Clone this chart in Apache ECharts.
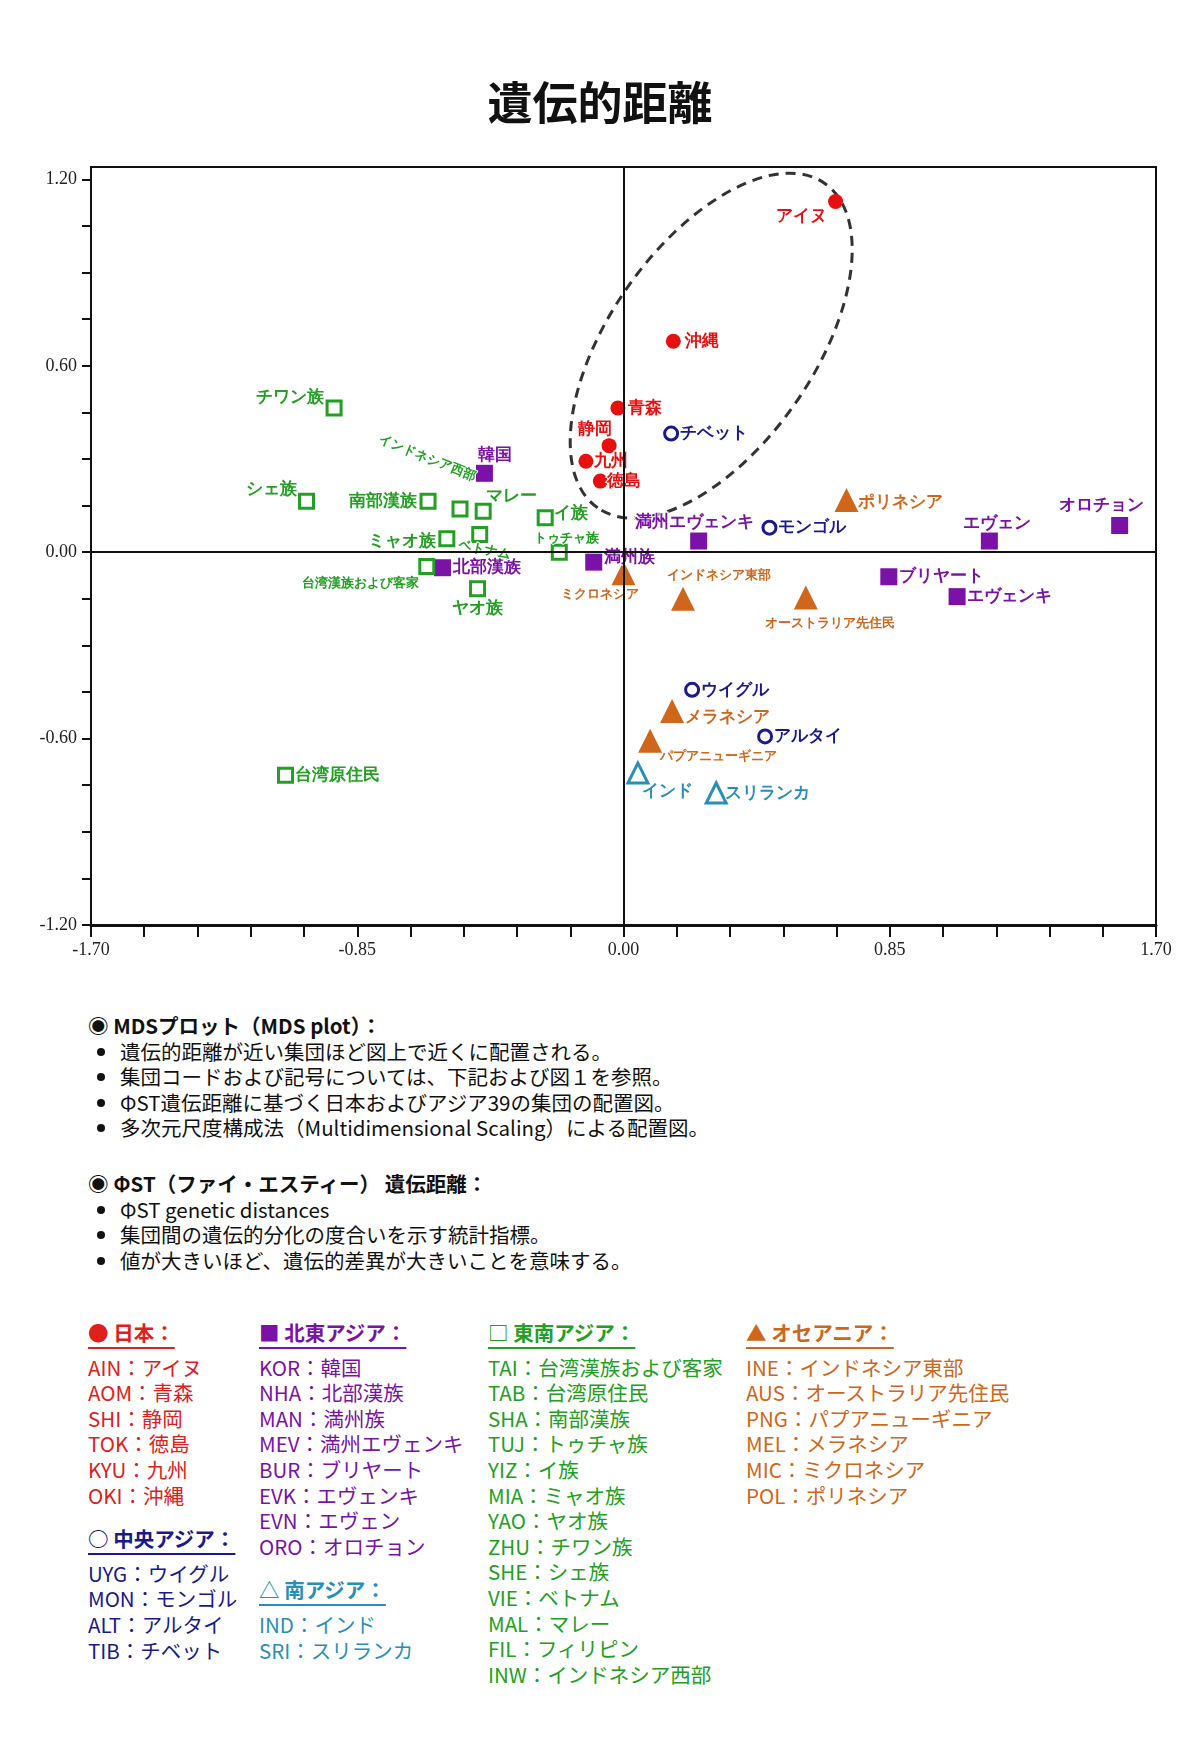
<!DOCTYPE html>
<html>
<head>
<meta charset="utf-8">
<script src="https://cdn.jsdelivr.net/npm/echarts@6/dist/echarts.min.js"></script>
<style>
body{margin:0;background:#fff;font-family:"Noto Sans CJK JP","Noto Sans",sans-serif;color:#111;}
#title{position:absolute;left:0;top:68px;width:1200px;text-align:center;font-size:45px;font-weight:bold;}
#chart{position:absolute;left:0;top:0;width:1200px;height:1000px;}
.notes{position:absolute;left:88px;font-size:20.5px;line-height:25.6px;}
.notes b{font-weight:bold;}
.notes ul{margin:0;padding-left:32px;}
.col{position:absolute;top:1320px;font-size:20.5px;line-height:25.6px;}
.col .h{font-weight:bold;text-decoration:underline;text-underline-offset:6px;margin-bottom:9px;}
.col .h2{margin-top:18px;}
</style>
</head>
<body>
<div id="chart"></div>
<div id="title">遺伝的距離</div>
<div class="notes" style="top:1013px;">
<b>◉ MDSプロット（MDS plot）：</b>
<ul>
<li>遺伝的距離が近い集団ほど図上で近くに配置される。</li>
<li>集団コードおよび記号については、下記および図１を参照。</li>
<li>ΦST遺伝距離に基づく日本およびアジア39の集団の配置図。</li>
<li>多次元尺度構成法（Multidimensional Scaling）による配置図。</li>
</ul>
</div>
<div class="notes" style="top:1171px;">
<b>◉ ΦST（ファイ・エスティー） 遺伝距離：</b>
<ul>
<li>ΦST genetic distances</li>
<li>集団間の遺伝的分化の度合いを示す統計指標。</li>
<li>値が大きいほど、遺伝的差異が大きいことを意味する。</li>
</ul>
</div>
<div class="col" style="left:88px;color:#e0201b;">
<div class="h">● 日本：</div>
AIN：アイヌ<br>AOM：青森<br>SHI：静岡<br>TOK：徳島<br>KYU：九州<br>OKI：沖縄
<div class="h h2" style="color:#1a1a8c;">○ 中央アジア：</div>
<div style="color:#1a1a8c;">UYG：ウイグル<br>MON：モンゴル<br>ALT：アルタイ<br>TIB：チベット</div>
</div>
<div class="col" style="left:259px;color:#7a12a8;">
<div class="h">■ 北東アジア：</div>
KOR：韓国<br>NHA：北部漢族<br>MAN：満州族<br>MEV：満州エヴェンキ<br>BUR：ブリヤート<br>EVK：エヴェンキ<br>EVN：エヴェン<br>ORO：オロチョン
<div class="h h2" style="color:#2a8fb8;">△ 南アジア：</div>
<div style="color:#2a8fb8;">IND：インド<br>SRI：スリランカ</div>
</div>
<div class="col" style="left:488px;color:#22a022;">
<div class="h">□ 東南アジア：</div>
TAI：台湾漢族および客家<br>TAB：台湾原住民<br>SHA：南部漢族<br>TUJ：トゥチャ族<br>YIZ：イ族<br>MIA：ミャオ族<br>YAO：ヤオ族<br>ZHU：チワン族<br>SHE：シェ族<br>VIE：ベトナム<br>MAL：マレー<br>FIL：フィリピン<br>INW：インドネシア西部
</div>
<div class="col" style="left:746px;color:#d0661a;">
<div class="h">▲ オセアニア：</div>
INE：インドネシア東部<br>AUS：オーストラリア先住民<br>PNG：パプアニューギニア<br>MEL：メラネシア<br>MIC：ミクロネシア<br>POL：ポリネシア
</div>
<script>
// 日本
var jpNames=['アイヌ','沖縄','青森','静岡','九州','徳島'];
var jpX=[0.677,0.159,-0.018,-0.046,-0.12,-0.074];
var jpY=[1.129,0.679,0.464,0.343,0.293,0.229];
// 中央アジア
var caNames=['チベット','モンゴル','ウイグル','アルタイ'];
var caX=[0.152,0.466,0.219,0.452];
var caY=[0.382,0.079,-0.443,-0.593];
// 北東アジア
var neNames=['韓国','北部漢族','満州族','満州エヴェンキ','ブリヤート','エヴェンキ','エヴェン','オロチョン'];
var neX=[-0.444,-0.578,-0.095,0.24,0.847,1.065,1.168,1.584];
var neY=[0.254,-0.05,-0.032,0.036,-0.079,-0.143,0.036,0.086];
// 東南アジア
var seNames=['チワン族','シェ族','南部漢族','インドネシア西部','マレー','イ族','ミャオ族','ベトナム','トゥチャ族','台湾漢族および客家','ヤオ族','台湾原住民'];
var seX=[-0.924,-1.012,-0.624,-0.522,-0.448,-0.25,-0.564,-0.459,-0.205,-0.628,-0.466,-1.079];
var seY=[0.464,0.164,0.164,0.139,0.132,0.111,0.043,0.057,0.0,-0.046,-0.118,-0.718];
// オセアニア
var ocNames=['ポリネシア','ミクロネシア','インドネシア東部','オーストラリア先住民','メラネシア','パプアニューギニア'];
var ocX=[0.712,0.0,0.19,0.582,0.155,0.085];
var ocY=[0.168,-0.068,-0.15,-0.146,-0.511,-0.607];
// 南アジア
var saNames=['インド','スリランカ'];
var saX=[0.046,0.296];
var saY=[-0.711,-0.775];

var yTicks=[1.2,0.6,0,-0.6,-1.2];
var xTicks=[-1.7,-0.85,0,0.85,1.7];

// ラベル配置: [dx, dy, align, size, rotate]
var labelCfg={
 'アイヌ':[-34,15,'center'],'沖縄':[12,0,'left'],'青森':[10,0,'left'],'静岡':[-14,-16,'center'],
 '九州':[8,0,'left'],'徳島':[7,0,'left'],
 'チベット':[9,0,'left'],'モンゴル':[9,0,'left'],'ウイグル':[9,0,'left'],'アルタイ':[9,0,'left'],
 '韓国':[11,-18,'center'],'北部漢族':[11,0,'left'],'満州族':[10,-5,'left'],'満州エヴェンキ':[-4,-19,'center'],
 'ブリヤート':[10,0,'left'],'エヴェンキ':[10,0,'left'],'エヴェン':[8,-18,'center'],'オロチョン':[-18,-20,'center'],
 'チワン族':[-10,-11,'right'],'シェ族':[-10,-12,'right'],'南部漢族':[-11,0,'right'],
 'インドネシア西部':[-49,-35,'center',13,-22],'マレー':[28,-15,'center'],'イ族':[9,-4,'left'],
 'ミャオ族':[-11,2,'right'],'ベトナム':[8,14,'center',13,-12],'トゥチャ族':[7,-14,'center',13],
 '台湾漢族および客家':[-66,17,'center',13],'ヤオ族':[0,19,'center'],'台湾原住民':[9,0,'left'],
 'ポリネシア':[11,2,'left'],'ミクロネシア':[-24,21,'center',13],'インドネシア東部':[36,-23,'center',13],
 'オーストラリア先住民':[24,26,'center',13],'メラネシア':[13,6,'left'],'パプアニューギニア':[10,16,'left',13],
 'インド':[30,18,'center'],'スリランカ':[9,0,'left']
};

function buildData(names,xs,ys,color){
    return names.map(function(n,i){
        var c=labelCfg[n]||[8,0,'left'];
        return {name:n,value:[xs[i],ys[i]],label:{show:true,position:'inside',offset:[c[0],c[1]],
            align:c[2],fontSize:c[3]||17,rotate:c[4]||0,color:color,fontWeight:'bold',
            formatter:'{b}',textBorderColor:'#fff',textBorderWidth:2}};
    });
}

function mkSeries(names,xs,ys,color,symbol,size,open){
    return {type:'scatter',data:buildData(names,xs,ys,color),symbol:symbol,symbolSize:size,
        itemStyle:open?{color:'#fff',borderColor:color,borderWidth:3,opacity:1}:{color:color,opacity:1},
        z:open?4:3};
}

var chart=echarts.init(document.getElementById('chart'),null,{renderer:'canvas'});
var series=[
    mkSeries(jpNames,jpX,jpY,'#e8100f','circle',15,false),
    mkSeries(caNames,caX,caY,'#1a1a8c','circle',13,true),
    mkSeries(neNames,neX,neY,'#7a12a8','rect',17,false),
    mkSeries(seNames,seX,seY,'#22a022','rect',14,true),
    mkSeries(ocNames,ocX,ocY,'#d0661a','triangle',24,false),
    mkSeries(saNames,saX,saY,'#2a8fb8','triangle',20,true)
];
series[0].markLine={silent:true,symbol:'none',label:{show:false},
    lineStyle:{color:'#111',width:2,type:'solid'},data:[{xAxis:0},{yAxis:0}]};

function near(v,list){return list.some(function(t){return Math.abs(t-v)<1e-6;});}

chart.setOption({
    animation:false,
    grid:{left:91,right:44,top:167,height:758,show:true,borderColor:'#111',borderWidth:2,backgroundColor:'#fff'},
    xAxis:{type:'value',min:-1.7,max:1.7,interval:0.17,
        axisLine:{onZero:false,lineStyle:{color:'#111',width:3}},
        axisTick:{show:true,inside:false,length:12,lineStyle:{color:'#111',width:2}},
        splitLine:{show:false},
        axisLabel:{margin:16,color:'#222',fontFamily:'Liberation Serif',fontSize:18,
            formatter:function(v){return near(v,xTicks)?v.toFixed(2):'';}}},
    yAxis:{type:'value',min:-1.2,max:1.24,interval:0.15,
        axisLine:{onZero:false,lineStyle:{color:'#111',width:2}},
        axisTick:{show:true,length:9,lineStyle:{color:'#111',width:2}},
        splitLine:{show:false},
        axisLabel:{margin:14,color:'#222',fontFamily:'Liberation Serif',fontSize:18,showMaxLabel:false,
            formatter:function(v){return near(v,yTicks)?v.toFixed(2):'';}}},
    series:series
});

// 日本集団を囲む破線の楕円
var ctr=chart.convertToPixel({gridIndex:0},[0.28,0.665]);
chart.setOption({graphic:[{type:'ellipse',shape:{cx:0,cy:0,rx:198,ry:102},x:ctr[0],y:ctr[1],
    rotation:55*Math.PI/180,silent:true,z:0,
    style:{fill:null,stroke:'#333',lineWidth:3,lineDash:[10,7]}}]});
</script>
</body>
</html>
